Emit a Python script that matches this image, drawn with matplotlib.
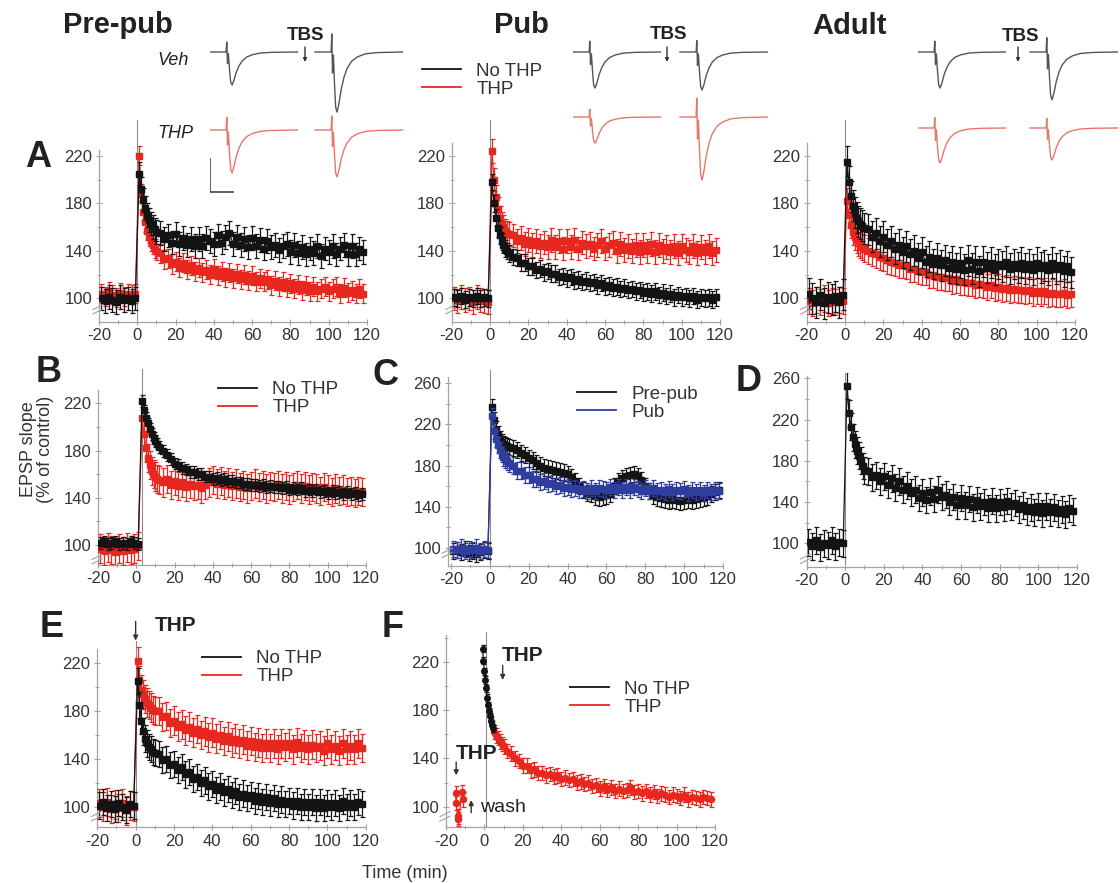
import numpy as np
import matplotlib
matplotlib.use('Agg')
import matplotlib.pyplot as plt
from matplotlib.lines import Line2D

plt.rcParams['font.family'] = ['Liberation Sans', 'DejaVu Sans']
plt.rcParams['axes.unicode_minus'] = False

W, H, DPI = 1120, 883, 100
BLACK = '#141414'; RED = '#e8271f'; BLUE = '#2f3d9f'
SPINE = '#a3a3a3'; TXT = '#333333'; DARK = '#222222'; VLINE = '#8c8c8c'
VEH_C = '#555555'; THP_C = '#e3786b'

# ---------------------------------------------------------------- data
# sample times (min)
t_base = np.arange(-19, 0, 2)
t_post = np.concatenate([np.arange(1, 11), np.arange(12, 120, 2)])
t_base_B = np.arange(-19, 2, 2)
t_post_B = t_post[:-1] + 2

# A - Pre-pub
prepub_nothp_base = [100, 98, 101, 99, 97, 101, 99, 100, 98, 100]
prepub_nothp_post = [205, 192, 183, 176, 170, 166, 163, 160, 158, 156,
                     155, 150, 153, 147, 154, 146, 151, 145, 150, 144,
                     150, 144, 151, 148, 146, 153, 147, 152, 155, 146,
                     152, 145, 150, 143, 151, 144, 149, 142, 148, 143,
                     145, 141, 144, 146, 139, 145, 138, 143, 137, 142,
                     138, 144, 136, 142, 139, 144, 137, 142, 145, 137,
                     144, 137, 142, 139]
prepub_nothp_sem = 10
prepub_thp_base = [104, 102, 106, 103, 101, 105, 102, 104, 103, 104]
prepub_thp_post = [220, 188, 173, 164, 157, 152, 148, 145, 142, 140,
                   138, 133, 134, 129, 131, 126, 130, 124, 128, 123,
                   126, 122, 124, 120, 125, 119, 123, 118, 122, 117,
                   121, 116, 120, 115, 119, 114, 117, 114, 116, 111,
                   115, 110, 114, 109, 113, 108, 112, 107, 111, 106,
                   110, 106, 108, 110, 106, 108, 110, 104, 109, 105,
                   107, 104, 108, 104]
prepub_thp_sem = 8

# A - Pub
pub_thp_base = [100, 98, 101, 99, 100, 97, 101, 99, 98, 97]
pub_thp_post = [224, 200, 185, 175, 168, 163, 160, 157, 155, 154,
                153, 148, 151, 146, 149, 145, 148, 144, 147, 143,
                149, 143, 148, 142, 148, 143, 149, 142, 147, 144,
                146, 142, 145, 148, 142, 145, 147, 140, 146, 141,
                144, 140, 145, 139, 145, 140, 146, 139, 145, 140,
                143, 139, 144, 138, 144, 141, 139, 144, 138, 143,
                139, 144, 138, 141]
pub_thp_sem = 10
pub_nothp_base = [101, 100, 102, 99, 101, 100, 102, 100, 101, 100]
pub_nothp_post = [198, 180, 168, 159, 153, 148, 145, 142, 140, 138,
                  135, 134, 130, 130, 127, 127, 124, 125, 122, 123,
                  121, 121, 118, 119, 117, 118, 115, 116, 114, 115,
                  113, 114, 111, 113, 110, 111, 109, 110, 108, 109,
                  107, 108, 106, 107, 105, 106, 104, 106, 103, 105,
                  102, 104, 101, 103, 101, 102, 100, 102, 99, 101,
                  100, 101, 99, 101]
pub_nothp_sem = 7

# A - Adult
adult_thp_base = [98, 96, 99, 97, 100, 96, 98, 97, 99, 98]
adult_thp_post = [182, 170, 162, 156, 152, 149, 147, 145, 143, 142,
                  140, 138, 137, 135, 134, 132, 131, 130, 128, 128,
                  127, 125, 125, 123, 122, 122, 120, 120, 118, 118,
                  117, 117, 115, 116, 114, 114, 113, 113, 111, 112,
                  111, 110, 111, 109, 110, 108, 109, 107, 108, 107,
                  107, 106, 107, 105, 106, 105, 106, 104, 105, 104,
                  104, 105, 103, 104]
adult_thp_sem = 11
adult_nothp_base = [104, 100, 97, 103, 96, 101, 99, 102, 97, 103]
adult_nothp_post = [215, 198, 186, 178, 172, 168, 165, 163, 161, 159,
                    158, 152, 155, 148, 152, 145, 148, 142, 145, 139,
                    144, 137, 140, 134, 139, 131, 135, 129, 134, 128,
                    132, 126, 131, 125, 130, 124, 132, 125, 131, 123,
                    131, 126, 130, 124, 129, 127, 131, 125, 129, 126,
                    130, 125, 129, 124, 130, 126, 128, 124, 130, 125,
                    128, 123, 127, 122]
adult_nothp_sem = 13

# B
b_thp_base = [97, 95, 98, 96, 94, 97, 95, 98, 96, 97, 99]
b_thp_post = [208, 194, 182, 174, 168, 163, 160, 158, 156, 155,
              153, 156, 151, 154, 150, 153, 149, 152, 150, 151,
              148, 151, 153, 155, 152, 154, 151, 153, 150, 152,
              149, 151, 148, 150, 152, 149, 151, 148, 150, 149,
              151, 148, 150, 147, 149, 151, 148, 150, 147, 149,
              148, 146, 149, 147, 145, 148, 146, 147, 145, 146,
              144, 146, 145]
b_thp_sem = 12
b_nothp_base = [102, 103, 101, 102, 103, 101, 102, 101, 103, 102, 101]
b_nothp_post = [222, 214, 208, 203, 198, 194, 191, 188, 186, 183,
                180, 176, 173, 169, 168, 165, 164, 162, 162, 160,
                160, 158, 158, 156, 157, 155, 156, 154, 154, 153,
                153, 152, 152, 151, 151, 150, 151, 149, 150, 149,
                149, 148, 149, 147, 148, 147, 148, 146, 147, 146,
                147, 145, 146, 144, 146, 144, 145, 143, 145, 143,
                144, 142, 143]
b_nothp_sem = 5

# C
c_prepub_base = [97, 98, 96, 99, 95, 97, 94, 96, 98, 97]
c_prepub_post = [237, 224, 215, 210, 206, 203, 201, 200, 199, 198,
                 197, 195, 192, 190, 187, 185, 182, 180, 178, 177,
                 176, 175, 174, 173, 172, 169, 165, 160, 156, 153,
                 152, 150, 149, 150, 151, 152, 160, 165, 168, 170,
                 171, 172, 170, 166, 160, 155, 151, 149, 148, 147,
                 146, 147, 146, 145, 146, 147, 146, 147, 148, 149,
                 150, 152, 154, 156]
c_prepub_sem = 8
c_pub_base = [99, 98, 100, 97, 99, 98, 100, 97, 99, 98]
c_pub_post = [228, 214, 206, 200, 195, 191, 188, 186, 184, 182,
              180, 175, 175, 171, 171, 167, 167, 164, 165, 162,
              163, 160, 161, 158, 159, 157, 158, 156, 157, 155,
              158, 155, 158, 157, 156, 159, 156, 159, 156, 159,
              156, 159, 157, 155, 158, 155, 158, 155, 156, 154,
              157, 154, 156, 155, 157, 153, 156, 154, 156, 153,
              156, 154, 156, 155]
c_pub_sem = 8

# D
d_base = [101, 97, 103, 96, 100, 98, 103, 97, 101, 100]
d_post = [253, 226, 213, 203, 196, 190, 185, 180, 175, 171,
          170, 164, 166, 160, 165, 157, 163, 154, 160, 152,
          156, 149, 152, 144, 149, 142, 150, 143, 152, 145,
          147, 140, 145, 137, 144, 137, 143, 135, 142, 136,
          140, 134, 141, 134, 140, 135, 141, 136, 139, 133,
          137, 131, 135, 130, 136, 129, 136, 130, 135, 129,
          133, 128, 134, 131]
d_sem = 13

# E
e_thp_base = [103, 100, 104, 98, 102, 99, 103, 97, 101, 100]
e_thp_post = [222, 206, 198, 194, 190, 187, 185, 183, 181, 180,
              180, 175, 176, 170, 172, 167, 169, 164, 167, 162,
              165, 160, 163, 158, 162, 157, 160, 155, 159, 154,
              157, 153, 156, 151, 155, 150, 154, 149, 153, 149,
              153, 148, 153, 150, 153, 148, 154, 149, 152, 148,
              152, 149, 151, 147, 153, 148, 151, 147, 153, 148,
              151, 148, 153, 149]
e_thp_sem = 12
e_nothp_base = [101, 104, 99, 102, 98, 103, 100, 97, 102, 101]
e_nothp_post = [205, 185, 172, 163, 157, 153, 150, 148, 146, 145,
                144, 139, 140, 135, 136, 131, 133, 127, 129, 123,
                125, 120, 122, 117, 119, 114, 117, 112, 115, 110,
                113, 108, 111, 107, 110, 105, 109, 104, 108, 103,
                107, 102, 106, 102, 105, 101, 105, 100, 104, 100,
                104, 99, 104, 99, 103, 100, 103, 99, 105, 100,
                103, 100, 104, 102]
e_nothp_sem = 11

# F
t_F_black = np.arange(-1, 5, 0.5)
f_nothp = [231, 221, 212, 205, 198, 190, 184, 179, 175, 171, 168, 165]
f_nothp_sem = 3
t_F_pre = [-15, -14.7, -14, -13.5, -11.5, -11]
f_thp_pre = [111, 103, 92, 90, 112, 106]
t_F_red = np.concatenate([np.arange(5, 11), np.arange(12, 120, 2)])
f_thp_post = [162, 159, 157, 154, 152, 150,
              146, 144, 140, 138, 134, 134, 130, 131, 128, 128,
              126, 127, 125, 126, 123, 124, 122, 123, 120, 121,
              119, 120, 117, 118, 115, 117, 114, 116, 113, 115,
              113, 114, 116, 112, 113, 111, 113, 110, 112, 109,
              111, 110, 108, 110, 109, 107, 110, 106, 108, 107,
              106, 108, 107, 106]
f_thp_sem = 6

# example EPSP traces: normalised waveform (ms, fraction of peak) and peak amplitudes (mV)
trace_t = [0, 7.0, 7.3, 7.6, 8.0, 8.5, 9.0, 9.6, 10.4, 11.4, 12.6, 14.0, 16.0, 18.5, 22.0, 27.0, 38.0]
trace_shape = [0, 0, 0.3, -0.35, -0.05, -0.55, -0.92, -1.0, -0.86, -0.62, -0.42, -0.27,
               -0.15, -0.08, -0.03, -0.01, 0]
veh_amp = {'prepub': [1.0, 1.82], 'pub': [1.09, 1.15], 'adult': [1.09, 1.45]}
thp_amp = {'prepub': [1.3, 1.42], 'pub': [0.79, 1.91], 'adult': [1.06, 0.97]}

# ---------------------------------------------------------------- figure
fig = plt.figure(figsize=(W / DPI, H / DPI), dpi=DPI)
fig.patch.set_facecolor('white')


def fx(px):
    return px / W


def fy(py):
    return 1 - py / H


def make_axes(left, right, y100, ppu, ylo, yhi, spine_top, xlim=(-20, 120),
              majors=(100, 140, 180, 220)):
    bottom = y100 + (100 - ylo) * ppu
    top = y100 - (yhi - 100) * ppu
    ax = fig.add_axes([fx(left), fy(bottom), (right - left) / W, (bottom - top) / H])
    ax.set_xlim(*xlim)
    ax.set_ylim(ylo, yhi)
    ax.patch.set_alpha(0)
    for s in ('top', 'right'):
        ax.spines[s].set_visible(False)
    for s in ('left', 'bottom'):
        ax.spines[s].set_color(SPINE)
        ax.spines[s].set_linewidth(0.9)
    ax.spines['left'].set_bounds(ylo, spine_top)
    ax.set_xticks(np.arange(-20, 121, 20))
    ax.set_xticks(np.arange(-10, 120, 20), minor=True)
    ax.set_yticks(list(majors))
    ax.set_yticks(np.arange(majors[0] + 20, spine_top, 40), minor=True)
    ax.tick_params(which='major', direction='inout', length=5, width=0.8, color=SPINE,
                   labelcolor=TXT, labelsize=12)
    ax.tick_params(which='minor', direction='inout', length=3, width=0.7, color=SPINE)
    ax.tick_params(axis='x', pad=2)
    ax.tick_params(axis='y', pad=2.5)
    ax._pxinfo = (right - left, ppu)
    return ax


def series(ax, t, y, sem, color, marker='s', ms=3.8, z=3):
    ax.errorbar(t, y, yerr=sem, fmt=marker + '-', lw=0.9, color=color, ms=ms, mec=color,
                mfc=color, ecolor=color, elinewidth=0.9, capsize=1.8, capthick=0.9, zorder=z)


def two_part(ax, tb, base, tp, post, sem, color, z=3):
    series(ax, np.concatenate([tb, tp]), np.concatenate([base, post]), sem, color, z=z)


def vline(ax, t0, vtop):
    lo, hi = ax.get_ylim()
    ax.axvline(t0, ymin=0, ymax=(vtop - lo) / (hi - lo), color=VLINE, lw=0.8, zorder=1)


def break_marks(ax, v):
    wpx, ppu = ax._pxinfo
    tr = ax.get_yaxis_transform()
    for c in (v - 2.2 / ppu, v + 2.2 / ppu):
        ax.plot([-6 / wpx, 4 / wpx], [c - 2.5 / ppu, c + 2.5 / ppu], transform=tr,
                color=SPINE, lw=0.8, clip_on=False, zorder=5)


def legend(ax, items, x_px, top_px):
    handles = [Line2D([], [], color=c, lw=1.3) for c, _ in items]
    leg = ax.legend(handles, [lab for _, lab in items], loc='upper left',
                    bbox_to_anchor=(fx(x_px), fy(top_px)), bbox_transform=fig.transFigure,
                    frameon=False, borderpad=0, borderaxespad=0, handlelength=2.1,
                    handletextpad=0.8, labelspacing=0.05, fontsize=13.5)
    for txt in leg.get_texts():
        txt.set_color(TXT)


# ---------------- row A
axA1 = make_axes(99, 367, 298.5, 1.19, 80.5, 250, 225)
vline(axA1, 0, 250)
two_part(axA1, t_base, prepub_thp_base, t_post, prepub_thp_post, prepub_thp_sem, RED)
two_part(axA1, t_base, prepub_nothp_base, t_post, prepub_nothp_post, prepub_nothp_sem, BLACK, z=4)
break_marks(axA1, 91)

axA2 = make_axes(451.7, 720, 298.5, 1.19, 80.5, 250, 231)
vline(axA2, 0, 250)
two_part(axA2, t_base, pub_thp_base, t_post, pub_thp_post, pub_thp_sem, RED)
two_part(axA2, t_base, pub_nothp_base, t_post, pub_nothp_post, pub_nothp_sem, BLACK, z=4)
break_marks(axA2, 91)
legend(axA2, [(BLACK, 'No THP'), (RED, 'THP')], 422, 62.5)

axA3 = make_axes(806.7, 1075, 298.5, 1.19, 80.5, 250, 231)
vline(axA3, 0, 250)
two_part(axA3, t_base, adult_thp_base, t_post, adult_thp_post, adult_thp_sem, RED)
two_part(axA3, t_base, adult_nothp_base, t_post, adult_nothp_post, adult_nothp_sem, BLACK, z=4)
break_marks(axA3, 91)

# ---------------- row B
axB = make_axes(98, 366, 545, 1.18, 83, 249, 231)
vline(axB, 3, 249)
two_part(axB, t_base_B, b_thp_base, t_post_B, b_thp_post, b_thp_sem, RED)
two_part(axB, t_base_B, b_nothp_base, t_post_B, b_nothp_post, b_nothp_sem, BLACK, z=4)
break_marks(axB, 88)
legend(axB, [(BLACK, 'No THP'), (RED, 'THP')], 218, 381)

axC = make_axes(448.3, 723, 547.7, 1.0275, 82.2, 273, 266, xlim=(-21.4, 120),
                majors=(100, 140, 180, 220, 260))
vline(axC, 0, 273)
two_part(axC, t_base, c_prepub_base, t_post, c_prepub_post, c_prepub_sem, BLACK)
two_part(axC, t_base, c_pub_base, t_post, c_pub_post, c_pub_sem, BLUE, z=4)
break_marks(axC, 95)
legend(axC, [(BLACK, 'Pre-pub'), (BLUE, 'Pub')], 577, 385.5)

axD = make_axes(806.5, 1077, 543.3, 1.031, 77, 265, 262, majors=(100, 140, 180, 220, 260))
vline(axD, 0, 265)
two_part(axD, t_base, d_base, t_post, d_post, d_sem, BLACK)
break_marks(axD, 85)

# ---------------- row C
axE = make_axes(97.3, 365.7, 806.7, 1.195, 82.8, 256, 231.7)
vline(axE, 0, 239)
two_part(axE, t_base, e_thp_base, t_post, e_thp_post, e_thp_sem, RED)
two_part(axE, t_base, e_nothp_base, t_post, e_nothp_post, e_nothp_sem, BLACK, z=4)
break_marks(axE, 92)
legend(axE, [(BLACK, 'No THP'), (RED, 'THP')], 202, 650)
axE.annotate('', xy=(0, 239), xytext=(0, 255), annotation_clip=False,
             arrowprops=dict(arrowstyle='-|>', color='#333333', lw=1, mutation_scale=7,
                             shrinkA=0, shrinkB=0))
axE.text(21, 252, 'THP', ha='center', va='center', fontsize=15, fontweight='bold', color=DARK)

axF = make_axes(446, 715, 806.7, 1.2075, 82.9, 245, 242)
vline(axF, 1, 245)
series(axF, t_F_pre, f_thp_pre, f_thp_sem, RED, marker='o', ms=4.4)
series(axF, t_F_red, f_thp_post, f_thp_sem, RED, marker='o', ms=4.4)
series(axF, t_F_black, f_nothp, f_nothp_sem, BLACK, marker='o', ms=4.0, z=4)
break_marks(axF, 92)
legend(axF, [(BLACK, 'No THP'), (RED, 'THP')], 570, 680.5)
arrow_kw = dict(arrowstyle='-|>', color='#333333', lw=1, mutation_scale=7, shrinkA=0, shrinkB=0)
axF.annotate('', xy=(9.5, 205), xytext=(9.5, 217), arrowprops=arrow_kw)
axF.text(20, 225, 'THP', ha='center', va='center', fontsize=15, fontweight='bold', color=DARK)
axF.annotate('', xy=(-14.7, 126), xytext=(-14.7, 137), arrowprops=arrow_kw)
axF.text(-4.3, 144, 'THP', ha='center', va='center', fontsize=15, fontweight='bold', color=DARK)
axF.annotate('', xy=(-6.9, 105.5), xytext=(-6.9, 95), arrowprops=arrow_kw)
axF.text(-2.5, 99, 'wash', ha='left', va='center', fontsize=14, color=DARK)

# ---------------- example traces
PX_MS, PX_MV = 2.3, 33.0
INSETS = [('prepub', 210, 52, 130, 105, 305), ('pub', 573, 52, 117, 107, 667),
          ('adult', 918, 52, 128, 112, 1018)]
tt = np.array(trace_t)
ts = np.array(trace_shape)
for key, left, veh_y, thp_y, gap, tbs_x in INSETS:
    iax = fig.add_axes([fx(left), fy(200), 100 * PX_MS / W, 180 / H])
    iax.set_xlim(0, 100)
    iax.set_ylim(-(200 - veh_y) / PX_MV, (veh_y - 20) / PX_MV)
    iax.axis('off')
    off2 = gap / PX_MS
    thp_off = -(thp_y - veh_y) / PX_MV
    for k, off in enumerate((0, off2)):
        iax.plot(tt + off, ts * veh_amp[key][k], color=VEH_C, lw=1.0)
        iax.plot(tt + off, ts * thp_amp[key][k] + thp_off, color=THP_C, lw=1.0)
    xa = (tbs_x - left) / PX_MS
    iax.annotate('', xy=(xa, -(62 - veh_y) / PX_MV), xytext=(xa, (veh_y - 47) / PX_MV),
                 arrowprops=dict(arrowstyle='-|>', color='#333333', lw=1, mutation_scale=5,
                                 shrinkA=0, shrinkB=0))
    if key == 'prepub':
        y1 = -(159 - veh_y) / PX_MV
        iax.plot([0, 0, 10], [y1, y1 - 1, y1 - 1], color='#444444', lw=1.2)

# ---------------- texts
for label, x, yb in [('Pre-pub', 118, 33), ('Pub', 521, 33), ('Adult', 850, 34)]:
    fig.text(fx(x), fy(yb), label, ha='center', va='baseline', fontsize=21,
             fontweight='bold', color=DARK)
for x, yb in [(306, 40), (668, 39), (1020, 41)]:
    fig.text(fx(x), fy(yb), 'TBS', ha='center', va='baseline', fontsize=13.5,
             fontweight='bold', color=DARK)
fig.text(fx(173), fy(65), 'Veh', ha='center', va='baseline', fontsize=13, style='italic', color=DARK)
fig.text(fx(175), fy(138), 'THP', ha='center', va='baseline', fontsize=13, style='italic', color=DARK)

for letter, x, yb in [('A', 38, 167), ('B', 49, 382), ('C', 385, 385), ('D', 749, 391),
                      ('E', 52, 637), ('F', 393, 637)]:
    fig.text(fx(x), fy(yb), letter, ha='center', va='baseline', fontsize=26,
             fontweight='bold', color=DARK)

fig.text(fx(37), fy(449), 'EPSP slope\n(% of control)', rotation=90, ha='center', va='center',
         fontsize=13, linespacing=1.05, multialignment='center', color=TXT)
fig.text(fx(405), fy(873), 'Time (min)', ha='center', va='center', fontsize=13, color=TXT)

fig.savefig('out.png', dpi=DPI, facecolor='white')
